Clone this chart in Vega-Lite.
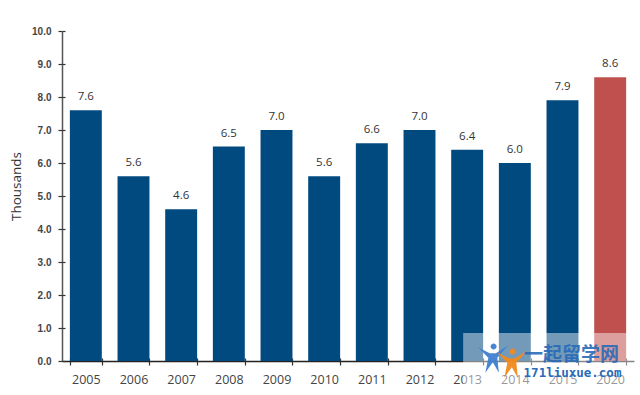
{
  "$schema": "https://vega.github.io/schema/vega-lite/v6.json",
  "width": 572,
  "height": 330,
  "autosize": {"type": "none"},
  "padding": {"left": 62, "top": 31, "right": 6, "bottom": 34},
  "background": "white",
  "config": {"view": {"stroke": null}, "font": "Liberation Sans"},
  "data": {"values": [
    {"year": "2005", "value": 7.6, "kind": "actual"},
    {"year": "2006", "value": 5.6, "kind": "actual"},
    {"year": "2007", "value": 4.6, "kind": "actual"},
    {"year": "2008", "value": 6.5, "kind": "actual"},
    {"year": "2009", "value": 7.0, "kind": "actual"},
    {"year": "2010", "value": 5.6, "kind": "actual"},
    {"year": "2011", "value": 6.6, "kind": "actual"},
    {"year": "2012", "value": 7.0, "kind": "actual"},
    {"year": "2013", "value": 6.4, "kind": "actual"},
    {"year": "2014", "value": 6.0, "kind": "actual"},
    {"year": "2015", "value": 7.9, "kind": "actual"},
    {"year": "2020", "value": 8.6, "kind": "forecast"}
  ]},
  "resolve": {"axis": {"x": "independent", "y": "independent"}},
  "layer": [
    {
      "mark": {"type": "bar"},
      "encoding": {
        "x": {
          "field": "year", "type": "ordinal", "sort": null,
          "scale": {"paddingInner": 0.33, "paddingOuter": 0.165},
          "axis": {
            "orient": "bottom", "title": null, "labelAngle": 0, "labelFont": "Open Sans", "labelFontSize": 12.5, "labelColor": "#444444",
            "labelPadding": 8, "domainColor": "#222222", "domainWidth": 1.5, "tickColor": "#333333", "tickWidth": 1.2,
            "tickSize": 4, "tickBand": "extent"
          }
        },
        "y": {
          "field": "value", "type": "quantitative",
          "scale": {"domain": [0, 10], "nice": false},
          "axis": {
            "orient": "left", "title": "Thousands", "titleFont": "Open Sans", "titleFontSize": 13.5, "titleFontWeight": "normal", "titleColor": "#333333",
            "titlePadding": 8, "titleY": 155, "values": [0,1,2,3,4,5,6,7,8,9,10], "format": ".1f", "labelOverlap": false,
            "labelFontSize": 10, "labelFontWeight": "bold", "labelColor": "#444444", "labelPadding": 7,
            "domainColor": "#555555", "domainWidth": 1.5, "tickColor": "#333333", "tickWidth": 1.2, "tickSize": 4, "grid": false
          }
        },
        "color": {
          "field": "kind", "type": "nominal", "legend": null,
          "scale": {"domain": ["actual", "forecast"], "range": ["#004a80", "#c0504d"]}
        }
      }
    },
    {
      "mark": {"type": "text", "dy": -13, "fontSize": 11.5, "font": "Open Sans", "color": "#333333"},
      "encoding": {
        "x": {
          "field": "year", "type": "ordinal", "sort": null,
          "axis": {"orient": "bottom", "title": null, "labels": false, "domain": false, "tickColor": "#333333", "tickWidth": 1.2, "tickSize": -3, "tickBand": "extent"}
        },
        "y": {
          "field": "value", "type": "quantitative",
          "axis": {"orient": "left", "title": null, "labels": false, "domain": false, "values": [0,1,2,3,4,5,6,7,8,9,10], "tickColor": "#333333", "tickWidth": 1.2, "tickSize": -3, "grid": false}
        },
        "text": {"field": "value", "type": "quantitative", "format": ".1f"}
      }
    },
    {
      "data": {"values": [{"from": "2013", "to": "2020", "top": 0.85, "bottom": -1.03}]},
      "mark": {"type": "rect", "color": "white", "opacity": 0.45, "clip": false, "xOffset": -4, "x2Offset": 30},
      "encoding": {
        "x": {"field": "from", "type": "ordinal", "axis": null},
        "x2": {"field": "to"},
        "y": {"field": "top", "type": "quantitative", "axis": null},
        "y2": {"field": "bottom"}
      }
    },
    {
      "data": {"values": [{"year": "2014", "level": 0.1}]},
      "mark": {"type": "point", "filled": true, "opacity": 0.95, "size": 900, "color": "#3f7fd0", "xOffset": -22, "shape": "M-1,-0.7 L-0.2,-0.3 L0.2,-0.3 L1,-0.8 L0.3,0 L0.4,1 L0,0.3 L-0.5,1 L-0.3,0 Z M-0.15,-0.75 a0.2,0.2 0 1,0 0.4,0 a0.2,0.2 0 1,0 -0.4,0"},
      "encoding": {
        "x": {"field": "year", "type": "ordinal", "axis": null},
        "y": {"field": "level", "type": "quantitative", "axis": null}
      }
    },
    {
      "data": {"values": [{"year": "2014", "level": -0.05}]},
      "mark": {"type": "point", "filled": true, "opacity": 0.95, "size": 900, "color": "#f08a1d", "xOffset": -3, "shape": "M-1,-0.7 L-0.2,-0.3 L0.2,-0.3 L1,-0.8 L0.3,0 L0.4,1 L0,0.3 L-0.5,1 L-0.3,0 Z M-0.15,-0.75 a0.2,0.2 0 1,0 0.4,0 a0.2,0.2 0 1,0 -0.4,0"},
      "encoding": {
        "x": {"field": "year", "type": "ordinal", "axis": null},
        "y": {"field": "level", "type": "quantitative", "axis": null}
      }
    },
    {
      "data": {"values": [{"year": "2015", "level": 0.18, "label": "一起留学网"}]},
      "mark": {"type": "text", "font": "Noto Sans CJK SC", "fontSize": 19, "fontWeight": "bold", "color": "#2a6ab8", "align": "center", "dx": 9, "opacity": 0.9},
      "encoding": {
        "x": {"field": "year", "type": "ordinal", "axis": null},
        "y": {"field": "level", "type": "quantitative", "axis": null},
        "text": {"field": "label"}
      }
    },
    {
      "data": {"values": [{"year": "2015", "level": -0.36, "label": "171liuxue.com"}]},
      "mark": {"type": "text", "font": "DejaVu Sans Mono", "fontSize": 12.5, "fontWeight": "bold", "color": "#2a6ab8", "align": "center", "dx": 10},
      "encoding": {
        "x": {"field": "year", "type": "ordinal", "axis": null},
        "y": {"field": "level", "type": "quantitative", "axis": null},
        "text": {"field": "label"}
      }
    }
  ]
}
